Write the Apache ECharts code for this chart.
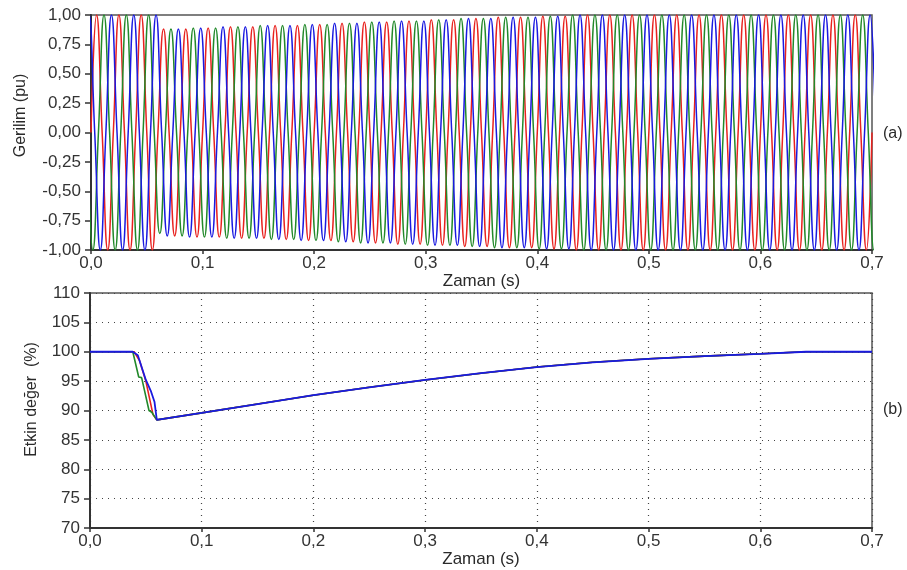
<!DOCTYPE html>
<html><head><meta charset="utf-8">
<script src="https://cdn.jsdelivr.net/npm/echarts@6/dist/echarts.min.js"></script>
<style>html,body{margin:0;padding:0;background:#fff}#c{width:907px;height:570px}</style>
</head><body><div id="c"></div>
<script>
// ---------- axes ----------
const xTicks = [0, 0.1, 0.2, 0.3, 0.4, 0.5, 0.6, 0.7];
const voltTicks = [-1, -0.75, -0.5, -0.25, 0, 0.25, 0.5, 0.75, 1];
const rmsTicks = [70, 75, 80, 85, 90, 95, 100, 105, 110];

// ---------- (a) three-phase voltage: peak magnitudes of successive half-cycles (pu) ----------
// time of first extremum (s), polarity of first extremum
const redFirstPeak = 0.005,      redFirstSign = 1;
const greenFirstPeak = 0.0016667, greenFirstSign = -1;
const blueFirstPeak = -0.0016667, blueFirstSign = 1;
const halfCycle = 0.01;

const redPeaks = [1,1,1,1,1,1,0.88,0.88,0.88,0.89,0.89,0.89,0.90,0.90,0.90,0.90,0.91,0.91,0.91,0.92,
  0.92,0.92,0.93,0.93,0.94,0.94,0.94,0.95,0.95,0.95,0.96,0.96,0.96,0.97,0.97,0.97,0.98,0.98,0.98,0.98,
  0.99,0.99,0.99,1,1,1,1,1,1,1,1,1,1,1,1,1,1,1,1,1,1,1,1,1,1,1,1,1,1,1];
const greenPeaks = [1,1,1,1,1,1,0.86,0.88,0.88,0.89,0.89,0.89,0.90,0.90,0.90,0.91,0.91,0.91,0.91,0.92,
  0.92,0.92,0.93,0.93,0.94,0.94,0.94,0.95,0.95,0.95,0.96,0.96,0.96,0.97,0.97,0.97,0.98,0.98,0.98,0.98,
  0.99,0.99,0.99,1,1,1,1,1,1,1,1,1,1,1,1,1,1,1,1,1,1,1,1,1,1,1,1,1,1,1,1];
const bluePeaks = [1,1,1,1,1,1,1,0.88,0.88,0.89,0.89,0.89,0.90,0.90,0.90,0.90,0.91,0.91,0.91,0.92,
  0.92,0.92,0.93,0.93,0.93,0.94,0.94,0.94,0.95,0.95,0.95,0.96,0.96,0.96,0.97,0.97,0.97,0.98,0.98,0.98,
  0.98,0.99,0.99,0.99,1,1,1,1,1,1,1,1,1,1,1,1,1,1,1,1,1,1,1,1,1,1,1,1,1,1,1];

// ---------- (b) RMS values (%) ----------
const rmsRedT = [0, 0.0395, 0.0443, 0.050, 0.0564, 0.0598, 0.1, 0.15, 0.2, 0.25, 0.3, 0.35, 0.4, 0.45, 0.5, 0.55, 0.6, 0.641, 0.7];
const rmsRed  = [100, 100, 98.5, 95.0, 89.3, 88.4, 89.6, 91.1, 92.6, 93.95, 95.2, 96.35, 97.4, 98.2, 98.8, 99.25, 99.65, 100, 100];
const rmsGreenT = [0, 0.0383, 0.0436, 0.0462, 0.0528, 0.0553, 0.0598, 0.1, 0.15, 0.2, 0.25, 0.3, 0.35, 0.4, 0.45, 0.5, 0.55, 0.6, 0.641, 0.7];
const rmsGreen  = [100, 100, 95.7, 95.6, 90.0, 89.7, 88.4, 89.6, 91.1, 92.6, 93.95, 95.2, 96.35, 97.4, 98.2, 98.8, 99.25, 99.65, 100, 100];
const rmsBlueT = [0, 0.0383, 0.0428, 0.050, 0.0547, 0.0577, 0.0598, 0.1, 0.15, 0.2, 0.25, 0.3, 0.35, 0.4, 0.45, 0.5, 0.55, 0.6, 0.641, 0.7];
const rmsBlue  = [100, 100, 99.4, 95.2, 93.2, 91.5, 88.4, 89.6, 91.1, 92.6, 93.95, 95.2, 96.35, 97.4, 98.2, 98.8, 99.25, 99.65, 100, 100];

const RED = '#e8221f', GREEN = '#22892a', BLUE = '#1a1ae0';

function wave(t0, sign, peaks) {
  const pts = [];
  for (let k = 0; k < peaks.length; k++) {
    const tp = t0 + k * halfCycle;
    pts.push([tp - halfCycle / 2, 0]);
    pts.push([tp, (k % 2 ? -sign : sign) * peaks[k]]);
  }
  pts.push([t0 + (peaks.length - 1) * halfCycle + halfCycle / 2, 0]);
  return pts;
}
function pairs(t, v) { return t.map((x, i) => [x, v[i]]); }

const FONT = 'Liberation Sans, Arial, sans-serif';
const fmtX = v => v.toFixed(1).replace('.', ',');
const fmtV = v => v.toFixed(2).replace('.', ',');

function xAxisCfg(gi, dottedGrid, gap) {
  return {
    type: 'value', gridIndex: gi, min: xTicks[0], max: xTicks[xTicks.length - 1], interval: 0.1,
    name: 'Zaman (s)', nameLocation: 'middle', nameGap: gap,
    nameTextStyle: { fontFamily: FONT, fontSize: 17, color: '#2a2a2a' },
    axisLine: { show: true, onZero: false, lineStyle: { color: '#333', width: 2 } },
    axisTick: { show: true, length: 4, lineStyle: { color: '#333', width: 1.5 } },
    axisLabel: { formatter: fmtX, fontFamily: FONT, fontSize: 17, color: '#333', margin: 5 },
    splitLine: { show: dottedGrid, lineStyle: { color: '#444', type: [1, 5], width: 1.2 } }
  };
}

const chart = echarts.init(document.getElementById('c'), null, { renderer: 'canvas' });
chart.setOption({
  animation: false,
  backgroundColor: '#fff',
  grid: [
    { left: 91, top: 15, width: 781, height: 235, show: true, borderColor: '#555', borderWidth: 1.5, outerBoundsMode: 'none', containLabel: false },
    { left: 90, top: 293, width: 782, height: 235, show: true, borderColor: '#555', borderWidth: 1.5, outerBoundsMode: 'none', containLabel: false }
  ],
  xAxis: [xAxisCfg(0, false, 12), xAxisCfg(1, true, 17)],
  yAxis: [
    {
      type: 'value', gridIndex: 0, min: voltTicks[0], max: voltTicks[voltTicks.length - 1], interval: 0.25,
      name: 'Gerilim (pu)', nameLocation: 'middle', nameGap: 62,
      nameTextStyle: { fontFamily: FONT, fontSize: 16, color: '#2a2a2a', padding: [0, 0, 0, 34] },
      axisLine: { show: true, lineStyle: { color: '#333', width: 2 } },
      axisTick: { show: true, length: 6, lineStyle: { color: '#333', width: 1.5 } },
      axisLabel: { formatter: fmtV, fontFamily: FONT, fontSize: 17, color: '#333', margin: 10 },
      splitLine: { show: false }
    },
    {
      type: 'value', gridIndex: 1, min: rmsTicks[0], max: rmsTicks[rmsTicks.length - 1], interval: 5,
      name: 'Etkin değer  (%)', nameLocation: 'middle', nameGap: 50,
      nameTextStyle: { fontFamily: FONT, fontSize: 16, color: '#2a2a2a', padding: [0, 0, 0, 22] },
      axisLine: { show: true, lineStyle: { color: '#333', width: 2 } },
      axisTick: { show: true, length: 6, lineStyle: { color: '#333', width: 1.5 } },
      axisLabel: { fontFamily: FONT, fontSize: 17, color: '#333', margin: 10 },
      splitLine: { show: true, lineStyle: { color: '#444', type: [1, 5], width: 1.2 } }
    }
  ],
  graphic: [
    { type: 'text', left: 883, top: 126, style: { text: '(a)', font: '16px ' + FONT, fill: '#2a2a2a' } },
    { type: 'text', left: 883, top: 402, style: { text: '(b)', font: '16px ' + FONT, fill: '#2a2a2a' } }
  ],
  series: [
    { name: 'Va', type: 'line', xAxisIndex: 0, yAxisIndex: 0, data: wave(redFirstPeak, redFirstSign, redPeaks), smooth: 0.5, showSymbol: false, lineStyle: { color: RED, width: 1.5 }, itemStyle: { color: RED } },
    { name: 'Vb', type: 'line', xAxisIndex: 0, yAxisIndex: 0, data: wave(greenFirstPeak, greenFirstSign, greenPeaks), smooth: 0.5, showSymbol: false, lineStyle: { color: GREEN, width: 1.5 }, itemStyle: { color: GREEN } },
    { name: 'Vc', type: 'line', xAxisIndex: 0, yAxisIndex: 0, data: wave(blueFirstPeak, blueFirstSign, bluePeaks), smooth: 0.5, showSymbol: false, lineStyle: { color: BLUE, width: 1.5 }, itemStyle: { color: BLUE } },
    { name: 'Va rms', type: 'line', xAxisIndex: 1, yAxisIndex: 1, data: pairs(rmsRedT, rmsRed), showSymbol: false, lineStyle: { color: RED, width: 1.6 }, itemStyle: { color: RED } },
    { name: 'Vb rms', type: 'line', xAxisIndex: 1, yAxisIndex: 1, data: pairs(rmsGreenT, rmsGreen), showSymbol: false, lineStyle: { color: GREEN, width: 1.6 }, itemStyle: { color: GREEN } },
    { name: 'Vc rms', type: 'line', xAxisIndex: 1, yAxisIndex: 1, data: pairs(rmsBlueT, rmsBlue), showSymbol: false, lineStyle: { color: BLUE, width: 1.8 }, itemStyle: { color: BLUE } }
  ]
});
</script>
</body></html>
